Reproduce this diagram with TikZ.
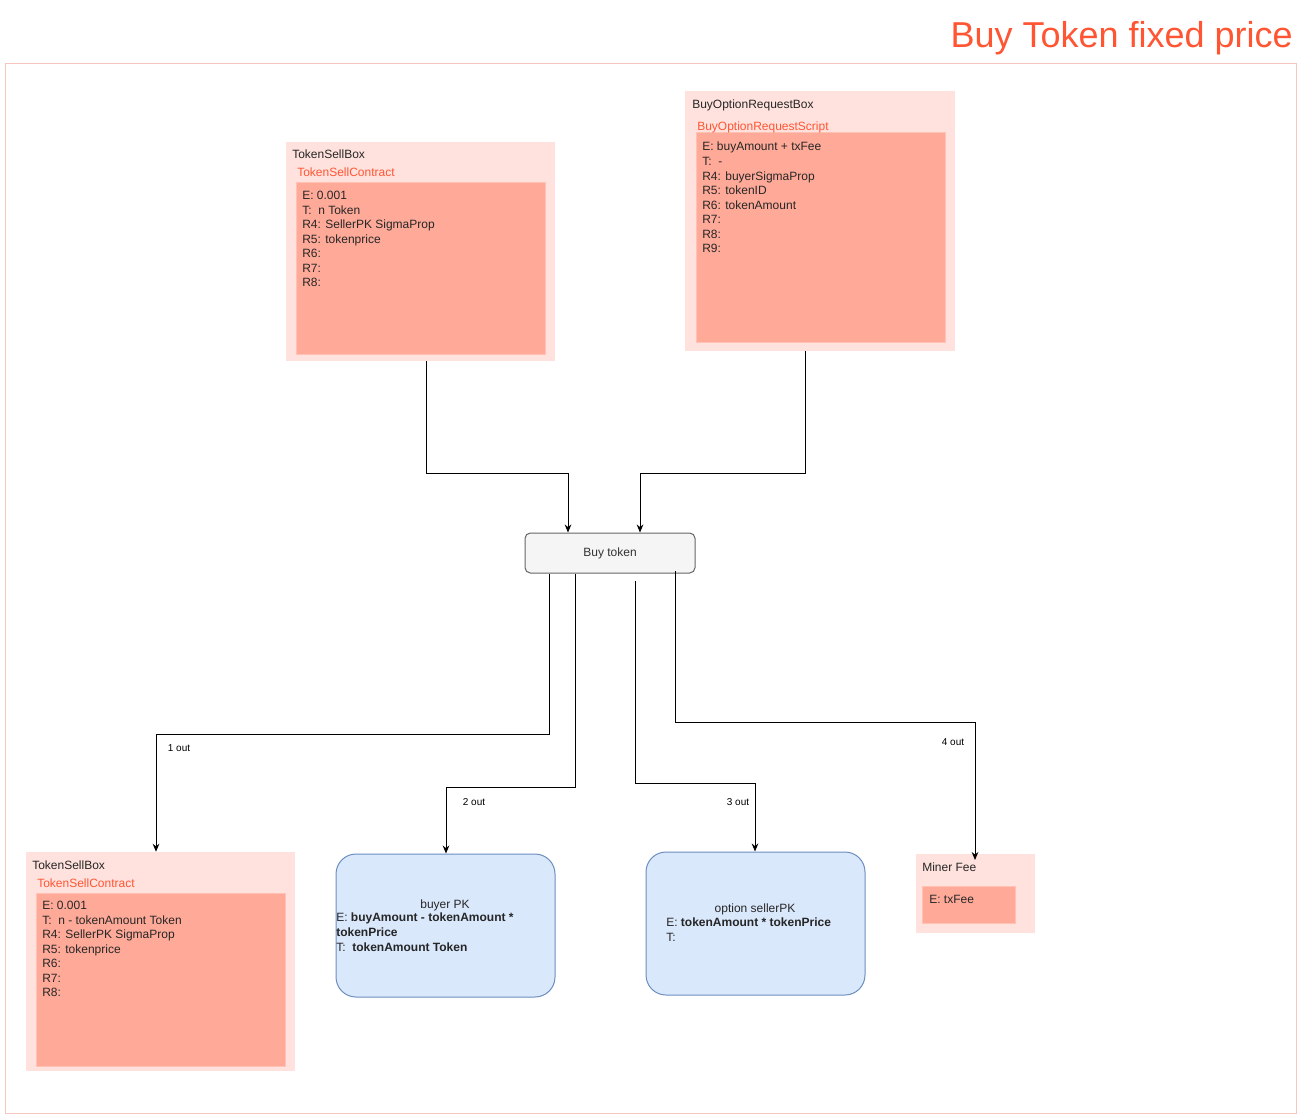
\documentclass[tikz,border=0pt]{standalone}
\usepackage{fontspec}
\setmainfont{Liberation Sans}
\usetikzlibrary{positioning, fit, arrows.meta}

\definecolor{boxpink}{HTML}{FFE2DD}
\definecolor{boxsalmon}{HTML}{FFAA99}
\definecolor{boxedge}{HTML}{FFC2B5}
\definecolor{titlered}{HTML}{FF5533}
\definecolor{frameline}{HTML}{F5C6BE}
\definecolor{pkfill}{HTML}{DAE8FC}
\definecolor{pkline}{HTML}{6C8EBF}

\tikzstyle{outer} = [fill=boxpink, inner sep=0pt]
\tikzstyle{inner} = [fill=boxsalmon, draw=boxedge, line width=0.75pt, inner sep=0pt]
\tikzstyle{pkbox} = [fill=pkfill, draw=pkline, line width=0.75pt, rounded corners=15pt, inner sep=0pt]
\tikzstyle{txbox} = [fill=black!4, draw=black!60, line width=0.75pt, rounded corners=4pt, inner sep=0pt,
    text=black!80, minimum width=127.5pt, minimum height=30pt]
\tikzstyle{lines} = [anchor=north west, align=left, inner sep=0pt, text=black!85]
\tikzstyle{label} = [anchor=base west, inner sep=0pt, text=black!85]
\tikzstyle{script} = [anchor=base west, inner sep=0pt, text=titlered]
\tikzstyle{outlabel} = [font=\fontsize{7.5}{9}\selectfont, inner sep=0pt]
\tikzstyle{flow} = [draw, line width=0.75pt, -{Stealth[length=6pt, width=5pt]}]

\begin{document}
\begin{tikzpicture}[x=0.75pt, y=-0.75pt, font=\fontsize{9}{10.9}\selectfont]
    \useasboundingbox (0,0) rectangle (1301,1119);

    \node (title) [anchor=base east, inner sep=0pt, text=titlered,
        font=\fontsize{27}{32}\selectfont] at (1293,48) {Buy Token fixed price};
    \node (frame) [fit={(5,64) (1296,1113)}, draw=frameline, line width=0.75pt, inner sep=0pt] {};

    % input boxes
    \node (tsb) [outer, fit={(286,142) (555,361)}] {};
    \node (tsbin) [inner, fit={(296,183) (545,355)}] {};
    \node (tsbname) [label] at (292,159) {TokenSellBox};
    \node (tsbscript) [script] at (297,177) {TokenSellContract};
    \node (tsbregs) [lines] at (302,191) {E: 0.001\\T:\ \ n Token\\R4: SellerPK SigmaProp\\R5: tokenprice\\R6:\\R7:\\R8:};

    \node (borb) [outer, fit={(685,91) (955,351)}] {};
    \node (borbin) [inner, fit={(696,133) (945,343)}] {};
    \node (borbname) [label] at (692,109) {BuyOptionRequestBox};
    \node (borbscript) [script] at (697,131) {BuyOptionRequestScript};
    \node (borbregs) [lines] at (702,142) {E: buyAmount + txFee\\T:\ \ -\\R4: buyerSigmaProp\\R5: tokenID\\R6: tokenAmount\\R7:\\R8:\\R9:};

    % transaction
    \node (buy) [txbox] at (610,553) {Buy token};

    % output boxes
    \node (tsb2) [outer, fit={(26,852) (295,1071)}] {};
    \node (tsb2in) [inner, fit={(36,893) (285,1066)}] {};
    \node (tsb2name) [label] at (32,869) {TokenSellBox};
    \node (tsb2script) [script] at (37,887) {TokenSellContract};
    \node (tsb2regs) [lines] at (42,901) {E: 0.001\\T:\ \ n - tokenAmount Token\\R4: SellerPK SigmaProp\\R5: tokenprice\\R6:\\R7:\\R8:};

    \node (pk) [pkbox, fit={(336,854) (555,997)}] {};
    \node (pkname) [anchor=base, inner sep=0pt, text=black!85] at (445,908) {buyer PK};
    \node (pkregs) [lines] at (336,913) {E: \textbf{buyAmount - tokenAmount *}\\\textbf{tokenPrice}\\T:\ \ \textbf{tokenAmount Token}};

    \node (spk) [pkbox, fit={(646,852) (865,995)}] {};
    \node (spkname) [anchor=base, inner sep=0pt, text=black!85] at (755,912) {option sellerPK};
    \node (spkregs) [lines] at (666,918) {E: \textbf{tokenAmount * tokenPrice}\\T:};

    \node (fee) [outer, fit={(916,854) (1035,933)}] {};
    \node (feein) [inner, fit={(922,886) (1015,923)}] {};
    \node (feename) [label] at (922,871) {Miner Fee};
    \node (feeregs) [label] at (929,903) {E: txFee};

    % connectors
    \draw[flow] (tsb.south -| 426,0) |- (568,473) -- (568,0 |- buy.north);
    \draw[flow] (borb.south -| 805,0) |- (640,473) -- (640,0 |- buy.north);

    \coordinate (o3) at (635,581);
    \coordinate (o4) at (675,571);
    \coordinate (feetop) at (975,860);
    \draw[flow] (549,0 |- buy.south) |- (156,734) -- (156,0 |- tsb2.north);
    \draw[flow] (575,0 |- buy.south) |- (446,787) -- (446,0 |- pk.north);
    \draw[flow] (o3) |- (755,783) -- (755,0 |- spk.north);
    \draw[flow] (o4) |- (975,722) -- (feetop);

    \node (l1) [outlabel] at (179,748) {1 out};
    \node (l2) [outlabel] at (474,802) {2 out};
    \node (l3) [outlabel] at (738,802) {3 out};
    \node (l4) [outlabel] at (953,742) {4 out};
\end{tikzpicture}
\end{document}
